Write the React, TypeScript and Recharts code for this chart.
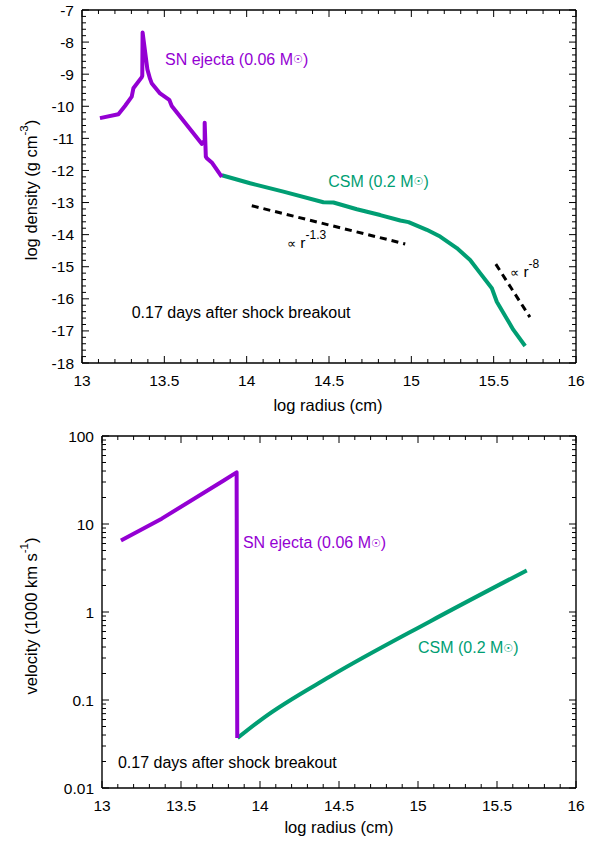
import React from 'react';
import { LineChart, Line, XAxis, YAxis, ReferenceDot, Customized } from 'recharts';

const FONT = '"Liberation Sans", Arial, Helvetica, sans-serif';
const PURPLE = '#9400D3';
const GREEN = '#009E73';
const BLACK = '#000000';

// ---------------- Top panel: log density vs log radius ----------------
const ejectaDensityLogR = [13.109, 13.221, 13.261, 13.302, 13.312, 13.362, 13.366, 13.368, 13.397, 13.413, 13.423, 13.474, 13.530, 13.545, 13.727, 13.745, 13.745, 13.752, 13.758, 13.788, 13.849];
const ejectaDensity = [-10.37, -10.25, -9.99, -9.70, -9.44, -9.10, -9.05, -7.70, -8.85, -9.14, -9.28, -9.60, -9.80, -9.99, -11.17, -11.07, -10.51, -11.57, -11.62, -11.75, -12.20];

const csmDensityLogR = [13.849, 14.021, 14.223, 14.466, 14.527, 14.669, 14.811, 14.933, 14.983, 15.094, 15.175, 15.276, 15.357, 15.418, 15.489, 15.519, 15.620, 15.691];
const csmDensity = [-12.15, -12.40, -12.66, -12.99, -13.00, -13.21, -13.39, -13.56, -13.61, -13.85, -14.06, -14.42, -14.79, -15.20, -15.67, -16.09, -16.97, -17.47];

const slope13LogR = [14.031, 14.963];
const slope13Density = [-13.10, -14.29];
const slope8LogR = [15.513, 15.720];
const slope8Density = [-14.92, -16.57];

// ---------------- Bottom panel: velocity vs log radius ----------------
const ejectaVelLogR = [13.120, 13.378, 13.768, 13.852, 13.856];
const ejectaVel = [6.5, 11.5, 31, 38.6, 0.037];
const csmVelLogR = [13.858, 14.021, 14.443, 15.076, 15.688];
const csmVel = [0.037, 0.0624, 0.185, 0.782, 2.97];

// ---------------- Ticks ----------------
const xMajorTicks = [13, 13.5, 14, 14.5, 15, 15.5, 16];
const xTickLabels = ['13', '13.5', '14', '14.5', '15', '15.5', '16'];
const densityMajorTicks = [-7, -8, -9, -10, -11, -12, -13, -14, -15, -16, -17, -18];
const densityTickLabels = ['-7', '-8', '-9', '-10', '-11', '-12', '-13', '-14', '-15', '-16', '-17', '-18'];
const velocityMajorTicks = [0.01, 0.1, 1, 10, 100];
const velocityTickLabels = ['0.01', '0.1', '1', '10', '100'];

const subdivide = (majors: number[], n: number) => {
  const s = [...majors].sort((a, b) => a - b);
  const out: number[] = [];
  for (let i = 0; i < s.length - 1; i++) {
    for (let k = 1; k < n; k++) out.push(s[i] + ((s[i + 1] - s[i]) * k) / n);
  }
  return out;
};
const logSubdivide = (majors: number[]) => {
  const s = [...majors].sort((a, b) => a - b);
  const out: number[] = [];
  for (let i = 0; i < s.length - 1; i++) {
    for (let k = 2; k <= 9; k++) out.push(s[i] * k);
  }
  return out;
};

const xAllTicks = [...xMajorTicks, ...subdivide(xMajorTicks, 5)];
const densityAllTicks = [...densityMajorTicks, ...subdivide(densityMajorTicks, 5)];
const velocityAllTicks = [...velocityMajorTicks, ...logSubdivide(velocityMajorTicks)];

const toPoints = (xs: number[], ys: number[]) => xs.map((x, i) => ({ x, y: ys[i] }));

type Side = 'bottom' | 'top' | 'left' | 'right';

function makeTick(side: Side, majors: number[], labels: string[] | null, log = false) {
  const findMajor = (v: number) =>
    majors.findIndex((m) =>
      log ? Math.abs(Math.log10(m) - Math.log10(v)) < 1e-6 : Math.abs(m - v) < 1e-6
    );
  return (props: any) => {
    const { x, y, payload } = props;
    const i = findMajor(payload.value);
    const major = i >= 0;
    const len = major ? 7 : 4;
    let x2 = x;
    let y2 = y;
    if (side === 'bottom') y2 = y - len;
    if (side === 'top') y2 = y + len;
    if (side === 'left') x2 = x + len;
    if (side === 'right') x2 = x - len;
    let label: React.ReactNode = null;
    if (labels && major) {
      if (side === 'bottom') {
        label = (
          <text x={x} y={y + 17} textAnchor="middle" dominantBaseline="central" fontSize={15.5} fontFamily={FONT} fill={BLACK}>
            {labels[i]}
          </text>
        );
      } else if (side === 'left') {
        label = (
          <text x={x - 8} y={y} textAnchor="end" dominantBaseline="central" fontSize={15.5} fontFamily={FONT} fill={BLACK}>
            {labels[i]}
          </text>
        );
      }
    }
    return (
      <g>
        <line x1={x} y1={y} x2={x2} y2={y2} stroke={BLACK} strokeWidth={1} />
        {label}
      </g>
    );
  };
}

const Sun = ({ size }: { size: number }) => (
  <tspan fontSize={size} fontFamily="DejaVu Sans">☉</tspan>
);

function textShape(content: React.ReactNode, fill: string, fontSize = 16) {
  return (p: any) => (
    <text x={p.cx} y={p.cy} fill={fill} fontSize={fontSize} fontFamily={FONT} textAnchor="start" dominantBaseline="central">
      {content}
    </text>
  );
}

const axisLine = { stroke: BLACK, strokeWidth: 1.4 };

function Titles({ xTitle, yTitle, xPos, yPos }: any) {
  return (
    <g fontFamily={FONT} fill={BLACK}>
      <text x={xPos[0]} y={xPos[1]} textAnchor="middle" dominantBaseline="central" fontSize={16.5}>
        {xTitle}
      </text>
      <text
        x={yPos[0]}
        y={yPos[1]}
        textAnchor="middle"
        dominantBaseline="central"
        fontSize={16.5}
        transform={`rotate(-90 ${yPos[0]} ${yPos[1]})`}
      >
        {yTitle}
      </text>
    </g>
  );
}

function DensityChart() {
  return (
    <LineChart width={603} height={420} margin={{ top: 9, right: 26, bottom: 56, left: 81 }}>
      <XAxis xAxisId="b" dataKey="x" type="number" domain={[13, 16]} ticks={xAllTicks} interval={0} allowDataOverflow
        height={1} tickSize={0} tickMargin={0} tickLine={false} axisLine={axisLine} tick={makeTick('bottom', xMajorTicks, xTickLabels)} />
      <XAxis xAxisId="t" orientation="top" dataKey="x" type="number" domain={[13, 16]} ticks={xAllTicks} interval={0} allowDataOverflow
        height={1} tickSize={0} tickMargin={0} tickLine={false} axisLine={axisLine} tick={makeTick('top', xMajorTicks, null)} />
      <YAxis yAxisId="l" dataKey="y" type="number" domain={[-18, -7]} ticks={densityAllTicks} interval={0} allowDataOverflow
        width={1} tickSize={0} tickMargin={0} tickLine={false} axisLine={axisLine} tick={makeTick('left', densityMajorTicks, densityTickLabels)} />
      <YAxis yAxisId="r" orientation="right" dataKey="y" type="number" domain={[-18, -7]} ticks={densityAllTicks} interval={0} allowDataOverflow
        width={1} tickSize={0} tickMargin={0} tickLine={false} axisLine={axisLine} tick={makeTick('right', densityMajorTicks, null)} />

      <Line xAxisId="b" yAxisId="l" data={toPoints(csmDensityLogR, csmDensity)} dataKey="y" stroke={GREEN} strokeWidth={4}
        dot={false} isAnimationActive={false} strokeLinejoin="round" />
      <Line xAxisId="b" yAxisId="l" data={toPoints(ejectaDensityLogR, ejectaDensity)} dataKey="y" stroke={PURPLE} strokeWidth={4}
        dot={false} isAnimationActive={false} strokeLinejoin="round" />
      <Line xAxisId="b" yAxisId="l" data={toPoints(slope13LogR, slope13Density)} dataKey="y" stroke={BLACK} strokeWidth={3}
        strokeDasharray="7 5" dot={false} isAnimationActive={false} />
      <Line xAxisId="b" yAxisId="l" data={toPoints(slope8LogR, slope8Density)} dataKey="y" stroke={BLACK} strokeWidth={3}
        strokeDasharray="7 5" dot={false} isAnimationActive={false} />

      <ReferenceDot xAxisId="b" yAxisId="l" x={13.504} y={-8.53} r={0} ifOverflow="visible"
        shape={textShape(<>SN ejecta (0.06 M<Sun size={11} />)</>, PURPLE)} />
      <ReferenceDot xAxisId="b" yAxisId="l" x={14.495} y={-12.33} r={0} ifOverflow="visible"
        shape={textShape(<>CSM (0.2 M<Sun size={11} />)</>, GREEN)} />
      <ReferenceDot xAxisId="b" yAxisId="l" x={13.302} y={-16.44} r={0} ifOverflow="visible"
        shape={textShape(<>0.17 days after shock breakout</>, BLACK)} />
      <ReferenceDot xAxisId="b" yAxisId="l" x={14.245} y={-14.26} r={0} ifOverflow="visible"
        shape={textShape(<><tspan fontSize={13}>∝</tspan> r<tspan dy={-8} fontSize={12}>-1.3</tspan></>, BLACK, 15.5)} />
      <ReferenceDot xAxisId="b" yAxisId="l" x={15.600} y={-15.16} r={0} ifOverflow="visible"
        shape={textShape(<><tspan fontSize={13}>∝</tspan> r<tspan dy={-8} fontSize={12}>-8</tspan></>, BLACK, 15.5)} />

      <Customized component={() => (
        <Titles
          xTitle="log radius (cm)"
          xPos={[328, 405]}
          yPos={[31, 190]}
          yTitle={<>log density (g cm<tspan dy={-7} fontSize={11.5}>-3</tspan><tspan dy={7}>)</tspan></>}
        />
      )} />
    </LineChart>
  );
}

function VelocityChart() {
  return (
    <LineChart width={603} height={423} margin={{ top: 15, right: 26, bottom: 54, left: 101 }}>
      <XAxis xAxisId="b" dataKey="x" type="number" domain={[13, 16]} ticks={xAllTicks} interval={0} allowDataOverflow
        height={1} tickSize={0} tickMargin={0} tickLine={false} axisLine={axisLine} tick={makeTick('bottom', xMajorTicks, xTickLabels)} />
      <XAxis xAxisId="t" orientation="top" dataKey="x" type="number" domain={[13, 16]} ticks={xAllTicks} interval={0} allowDataOverflow
        height={1} tickSize={0} tickMargin={0} tickLine={false} axisLine={axisLine} tick={makeTick('top', xMajorTicks, null)} />
      <YAxis yAxisId="l" dataKey="y" type="number" scale="log" domain={[0.01, 100]} ticks={velocityAllTicks} interval={0} allowDataOverflow
        width={1} tickSize={0} tickMargin={0} tickLine={false} axisLine={axisLine} tick={makeTick('left', velocityMajorTicks, velocityTickLabels, true)} />
      <YAxis yAxisId="r" orientation="right" dataKey="y" type="number" scale="log" domain={[0.01, 100]} ticks={velocityAllTicks} interval={0} allowDataOverflow
        width={1} tickSize={0} tickMargin={0} tickLine={false} axisLine={axisLine} tick={makeTick('right', velocityMajorTicks, null, true)} />

      <Line xAxisId="b" yAxisId="l" type="monotone" data={toPoints(csmVelLogR, csmVel)} dataKey="y" stroke={GREEN} strokeWidth={4}
        dot={false} isAnimationActive={false} strokeLinejoin="round" />
      <Line xAxisId="b" yAxisId="l" data={toPoints(ejectaVelLogR, ejectaVel)} dataKey="y" stroke={PURPLE} strokeWidth={4}
        dot={false} isAnimationActive={false} strokeLinejoin="round" />

      <ReferenceDot xAxisId="b" yAxisId="l" x={13.892} y={6.13} r={0} ifOverflow="visible"
        shape={textShape(<>SN ejecta (0.06 M<Sun size={11} />)</>, PURPLE)} />
      <ReferenceDot xAxisId="b" yAxisId="l" x={15.0} y={0.393} r={0} ifOverflow="visible"
        shape={textShape(<>CSM (0.2 M<Sun size={11} />)</>, GREEN)} />
      <ReferenceDot xAxisId="b" yAxisId="l" x={13.101} y={0.0194} r={0} ifOverflow="visible"
        shape={textShape(<>0.17 days after shock breakout</>, BLACK)} />

      <Customized component={() => (
        <Titles
          xTitle="log radius (cm)"
          xPos={[339, 407]}
          yPos={[31, 196]}
          yTitle={<>velocity (1000 km s<tspan dy={-7} fontSize={11.5}>-1</tspan><tspan dy={7}>)</tspan></>}
        />
      )} />
    </LineChart>
  );
}

export default function App() {
  return (
    <div style={{ position: 'absolute', left: 0, top: 0, width: 603, height: 843, background: '#ffffff' }}>
      <DensityChart />
      <VelocityChart />
    </div>
  );
}
